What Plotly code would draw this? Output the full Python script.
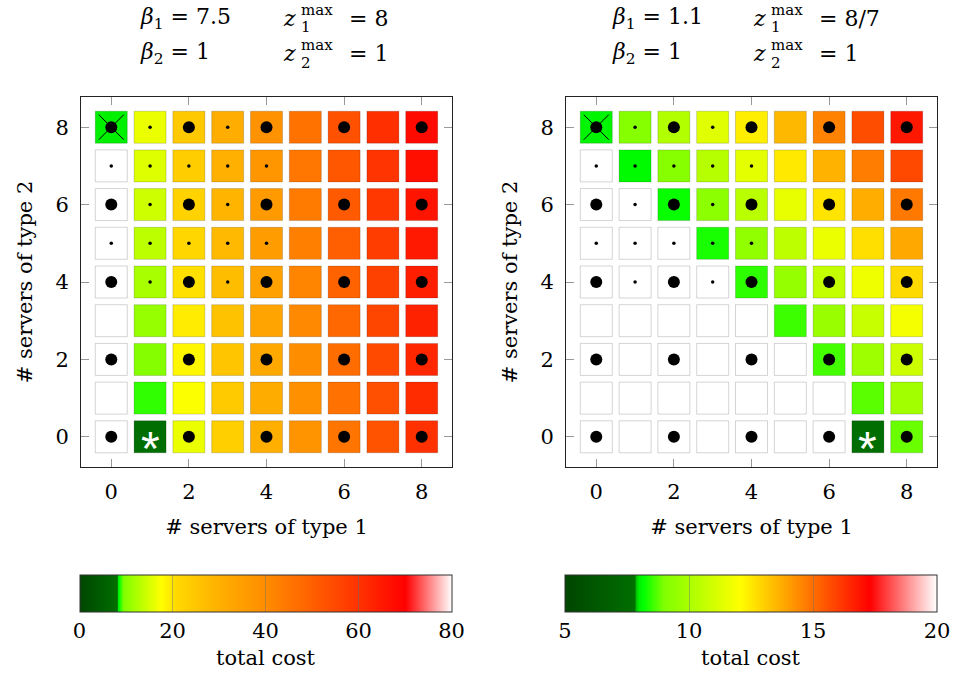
import plotly.graph_objects as go

W, H = 957, 691
FONT = "DejaVu Serif"

# ---------------- data ----------------
grid_x = [0, 1, 2, 3, 4, 5, 6, 7, 8]          # number of servers of type 1
grid_y_top_down = [8, 7, 6, 5, 4, 3, 2, 1, 0]  # number of servers of type 2 (rows as drawn)
tick_vals = [0, 2, 4, 6, 8]

# total cost, rows from y=8 (top) to y=0 (bottom); None = infeasible (white)
left_cost = [
    [8.3, 16.3, 24.2, 30.9, 38.2, 45.7, 53.1, 60.6, 68.1],
    [None, 15.3, 23.2, 29.9, 37.2, 44.7, 52.1, 59.6, 67.1],
    [None, 14.3, 22.2, 28.9, 36.2, 43.7, 51.1, 58.6, 66.1],
    [None, 13.2, 21.2, 27.9, 35.2, 42.7, 50.1, 57.6, 65.1],
    [None, 11.9, 20.2, 26.9, 34.2, 41.7, 49.1, 56.6, 64.1],
    [None, 10.8, 19.2, 25.9, 33.2, 40.7, 48.1, 55.6, 63.1],
    [None, 9.7, 18.2, 24.9, 32.2, 39.7, 47.1, 54.6, 62.1],
    [None, 8.8, 17.3, 23.9, 31.2, 38.7, 46.1, 53.6, 61.1],
    [None, 8.0, 16.3, 22.9, 30.2, 37.7, 45.1, 52.6, 60.1],
]
right_cost = [
    [8.05, 9.15, 10.2, 11.3, 12.4, 13.5, 14.6, 15.7, 16.8],
    [None, 8.1, 9.2, 10.3, 11.4, 12.5, 13.6, 14.7, 15.8],
    [None, None, 8.2, 9.3, 10.4, 11.5, 12.6, 13.7, 14.8],
    [None, None, None, 8.3, 9.4, 10.5, 11.6, 12.7, 13.8],
    [None, None, None, None, 8.45, 9.5, 10.6, 11.7, 12.8],
    [None, None, None, None, None, 8.55, 9.6, 10.7, 11.8],
    [None, None, None, None, None, None, 8.6, 9.7, 10.8],
    [None, None, None, None, None, None, None, 8.75, 9.8],
    [None, None, None, None, None, None, None, 7.8, 8.85],
]

# dot markers, rows y=8..0: B = large dot, s = small dot, . = none
dot_pattern = [
    "BsBsB.B.B",
    "sssss....",
    "BsBsB.B.B",
    "sssss....",
    "BsBsB.B.B",
    ".........",
    "B.B.B.B.B",
    ".........",
    "B.B.B.B.B",
]
cross_point = (0, 8)
left_optimum = (1, 0)
right_optimum = (7, 0)

left_range = (0, 80)
right_range = (5, 20)
left_cbar_ticks = [0, 20, 40, 60, 80]
right_cbar_ticks = [5, 10, 15, 20]

left_cs = [(0, "rgb(0,70,0)"), (8.05, "rgb(0,110,0)"), (8.1, "rgb(0,190,0)"),
           (8.3, "rgb(0,240,0)"), (8.45, "rgb(0,255,0)"), (9.4, "rgb(128,255,0)"),
           (17.5, "rgb(255,255,0)"), (21, "rgb(255,215,0)"), (30, "rgb(255,176,0)"),
           (40, "rgb(255,140,0)"), (50, "rgb(255,95,0)"), (60, "rgb(255,50,0)"),
           (70, "rgb(255,0,0)"), (80, "rgb(255,255,255)")]
right_cs = [(5, "rgb(0,70,0)"), (7.82, "rgb(0,110,0)"), (7.87, "rgb(0,190,0)"),
            (8.0, "rgb(0,240,0)"), (8.15, "rgb(0,255,0)"), (9.0, "rgb(128,255,0)"),
            (12.05, "rgb(255,255,0)"), (15.0, "rgb(255,110,0)"), (17.3, "rgb(255,0,0)"),
            (20, "rgb(255,255,255)")]

left_title = [("7.5", "8"), ("1", "1")]
right_title = [("1.1", "8/7"), ("1", "1")]


def norm_cs(cs, lo, hi):
    return [[(v - lo) / (hi - lo), c] for v, c in cs]


fig = go.Figure()

BORDER = "rgba(0,0,0,0.17)"
CELL = 32
annotations = []


def add_panel(cost, rng, cs, cbar_ticks, opt, xa, ya, cb_center):
    wx, wy, cx, cy, cv = [], [], [], [], []
    for r, row in enumerate(cost):
        yv = grid_y_top_down[r]
        for xi, v in enumerate(row):
            if v is None:
                wx.append(grid_x[xi]); wy.append(yv)
            else:
                cx.append(grid_x[xi]); cy.append(yv); cv.append(v)
    fig.add_trace(go.Scatter(
        x=wx, y=wy, mode="markers", xaxis=xa, yaxis=ya, hoverinfo="skip",
        marker=dict(symbol="square", size=CELL, color="white",
                    line=dict(width=1, color=BORDER)), showlegend=False))
    fig.add_trace(go.Scatter(
        x=cx, y=cy, mode="markers", xaxis=xa, yaxis=ya,
        marker=dict(symbol="square", size=CELL, color=cv,
                    colorscale=norm_cs(cs, *rng), cmin=rng[0], cmax=rng[1],
                    line=dict(width=1, color=BORDER),
                    showscale=True,
                    colorbar=dict(
                        orientation="h", x=cb_center / W, xanchor="center",
                        y=1 - 575 / H, yanchor="top", len=372 / W, lenmode="fraction",
                        thickness=37, thicknessmode="pixels",
                        outlinewidth=1, outlinecolor="#333",
                        tickvals=cbar_ticks, ticks="inside", ticklen=37,
                        tickcolor="rgba(110,110,110,0.45)", tickwidth=1,
                        tickfont=dict(family=FONT, size=21, color="black"),
                        xpad=0, ypad=0, borderwidth=0)),
        showlegend=False))
    annotations.append(dict(text="total cost", x=cb_center / W, y=1 - 658 / H,
                            xref="paper", yref="paper", xanchor="center",
                            yanchor="middle", showarrow=False,
                            font=dict(family=FONT, size=21, color="black")))
    bx, by, sx, sy = [], [], [], []
    for r, row in enumerate(dot_pattern):
        yv = grid_y_top_down[r]
        for xi, ch in enumerate(row):
            if ch == "B":
                bx.append(grid_x[xi]); by.append(yv)
            elif ch == "s":
                sx.append(grid_x[xi]); sy.append(yv)
    fig.add_trace(go.Scatter(x=bx, y=by, mode="markers", xaxis=xa, yaxis=ya,
                             marker=dict(size=12, color="black"), showlegend=False))
    fig.add_trace(go.Scatter(x=sx, y=sy, mode="markers", xaxis=xa, yaxis=ya,
                             marker=dict(size=3.5, color="black"), showlegend=False))
    fig.add_trace(go.Scatter(x=[cross_point[0]], y=[cross_point[1]], mode="markers",
                             xaxis=xa, yaxis=ya,
                             marker=dict(symbol="x-thin-open", size=25, color="black",
                                         line=dict(width=1, color="black")),
                             showlegend=False))
    annotations.append(dict(text="*", x=opt[0], y=opt[1], xref=xa, yref=ya,
                            xanchor="center", yanchor="middle", yshift=-12,
                            showarrow=False,
                            font=dict(family="Liberation Sans", size=48, color="white")))


add_panel(left_cost, left_range, left_cs, left_cbar_ticks, left_optimum, "x", "y", 265.5)
add_panel(right_cost, right_range, right_cs, right_cbar_ticks, right_optimum, "x2", "y2", 751)

axis_common = dict(range=[-0.78, 8.78], tickvals=tick_vals, ticks="inside", ticklen=8,
                   tickcolor="#999", tickwidth=1, showline=True, linecolor="#222",
                   linewidth=1, mirror="ticks", showgrid=False, zeroline=False,
                   tickfont=dict(family=FONT, size=21, color="black"), fixedrange=True)
xaxis_extra = dict(ticklabelstandoff=6)
yaxis_extra = dict(ticklabelstandoff=7)
title_font = dict(family=FONT, size=21, color="black")

fig.update_layout(
    width=W, height=H, margin=dict(l=0, r=0, t=0, b=0),
    paper_bgcolor="white", plot_bgcolor="white",
    xaxis=dict(domain=[81 / W, 452 / W], anchor="y",
               title=dict(text="# servers of type 1", font=title_font, standoff=16),
               **axis_common, **xaxis_extra),
    yaxis=dict(domain=[1 - 467 / H, 1 - 97 / H], anchor="x",
               title=dict(text="# servers of type 2", font=title_font, standoff=17),
               **axis_common, **yaxis_extra),
    xaxis2=dict(domain=[566 / W, 937 / W], anchor="y2",
                title=dict(text="# servers of type 1", font=title_font, standoff=16),
                **axis_common, **xaxis_extra),
    yaxis2=dict(domain=[1 - 467 / H, 1 - 97 / H], anchor="x2",
                title=dict(text="# servers of type 2", font=title_font, standoff=17),
                **axis_common, **yaxis_extra),
)


# panel headers built from annotation pieces
def header(values, x_beta, x_z, x_max, x_eq):
    anns = []
    for i, (bval, zval) in enumerate(values):
        yc = [18, 53][i]
        ysup = [10, 45][i]
        ysub = [27, 63][i]
        idx = str(i + 1)
        anns.append(dict(text=f"<i>β</i><sub>{idx}</sub> = {bval}", x=x_beta / W,
                         y=1 - yc / H, xanchor="left", yanchor="middle",
                         font=dict(family=FONT, size=22)))
        anns.append(dict(text="<i>z</i>", x=x_z / W, y=1 - yc / H, xanchor="left",
                         yanchor="middle", font=dict(family=FONT, size=22)))
        anns.append(dict(text="max", x=x_max / W, y=1 - ysup / H, xanchor="left",
                         yanchor="middle", font=dict(family=FONT, size=15)))
        anns.append(dict(text=idx, x=x_max / W, y=1 - ysub / H, xanchor="left",
                         yanchor="middle", font=dict(family=FONT, size=15)))
        anns.append(dict(text=f"= {zval}", x=x_eq / W, y=1 - yc / H, xanchor="left",
                         yanchor="middle", font=dict(family=FONT, size=22)))
    return anns


hdr = header(left_title, 138, 281, 299, 347) + header(right_title, 610, 751, 769, 817)
for a in hdr:
    a.update(xref="paper", yref="paper", showarrow=False)
    a["font"]["color"] = "black"
fig.update_layout(annotations=hdr + annotations)

fig.write_html("out.html", include_plotlyjs=True,
               config={"displayModeBar": False},
               post_script="document.body.style.margin='0';")
